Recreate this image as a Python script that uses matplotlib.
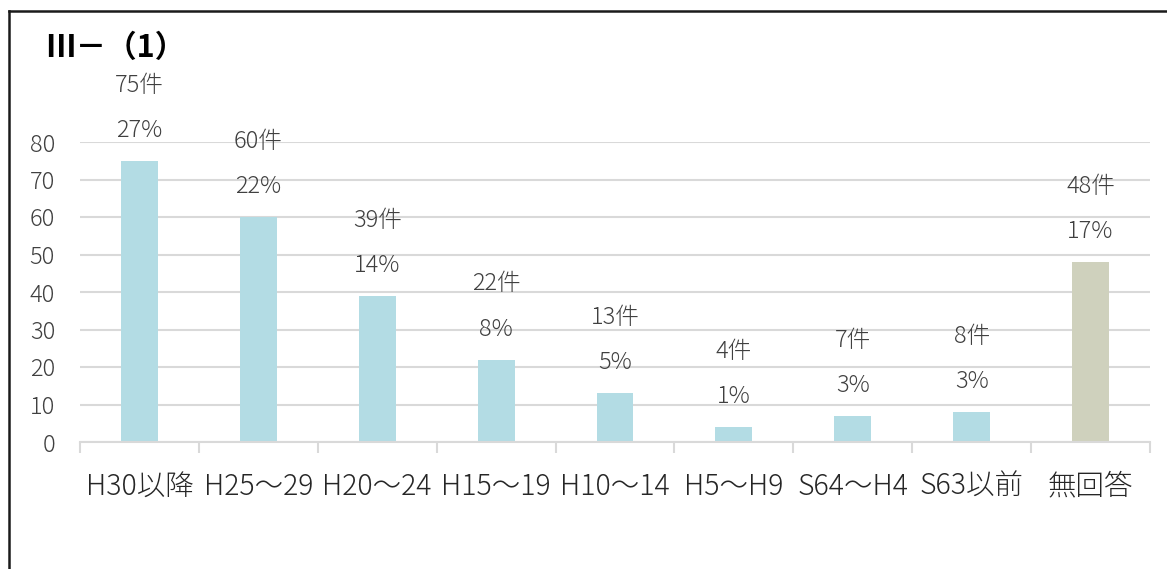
import matplotlib
matplotlib.use("Agg")
import matplotlib.pyplot as plt
from matplotlib.lines import Line2D
import numpy as np

plt.rcParams['font.family'] = ['Noto Sans CJK JP', 'DejaVu Sans']

categories = ["H30以降", "H25～29", "H20～24", "H15～19", "H10～14",
              "H5～H9", "S64～H4", "S63以前", "無回答"]
counts = [75, 60, 39, 22, 13, 4, 7, 8, 48]
percents = [27, 22, 14, 8, 5, 1, 3, 3, 17]
bar_colors = ["#B3DCE4"] * 8 + ["#CFD1BD"]
title = "Ⅲ－（1）"

W, H, DPI = 1167, 569, 100
fig = plt.figure(figsize=(W / DPI, H / DPI), dpi=DPI)
ax = fig.add_axes([80 / W, 1 - 442 / H, (1150 - 80) / W, (442 - 142) / H])

x = np.arange(len(categories))
ax.bar(x, counts, width=0.31, color=bar_colors, zorder=2)

ax.set_xlim(-0.5, len(categories) - 0.5)
ax.set_ylim(0, 80)
ax.set_yticks(range(0, 81, 10))
ax.yaxis.grid(True, color="#D9D9D9", linewidth=1.5, zorder=0)
ax.set_axisbelow(True)

for side in ("top", "right", "left"):
    ax.spines[side].set_visible(False)
ax.spines["bottom"].set_color("#D9D9D9")
ax.spines["bottom"].set_linewidth(1.5)

# category labels centered, tick marks on category boundaries
ax.set_xticks(x)
ax.set_xticklabels(categories, fontsize=20.5, color="#262626", fontweight="light")
ax.tick_params(axis="x", length=0, pad=21)
ax.set_xticks(np.arange(-0.5, len(categories)), minor=True)
ax.tick_params(axis="x", which="minor", length=8, width=1.5, color="#D9D9D9")
ax.tick_params(axis="y", length=0, pad=18, labelsize=17, labelcolor="#404040")
for lbl in ax.get_yticklabels():
    lbl.set_fontweight("light")

for xi, c, p in zip(x, counts, percents):
    ax.annotate(f"{p}%", (xi, c), xytext=(0, 24), textcoords="offset pixels",
                ha="center", va="baseline", fontsize=17, color="#404040",
                fontweight="light")
    ax.annotate(f"{c}件", (xi, c), xytext=(0, 69), textcoords="offset pixels",
                ha="center", va="baseline", fontsize=17, color="#404040",
                fontweight="light")

fig.text(45 / W, 1 - 48 / H, title, fontsize=22, fontweight="bold",
         color="#000000", ha="left", va="center")

# outer frame (top and left edges)
lx, ty = 8.5 / W, 1 - 10.5 / H
fig.add_artist(Line2D([lx, lx], [0, ty], color="#1a1a1a", linewidth=1.8,
                      transform=fig.transFigure))
fig.add_artist(Line2D([lx, 1], [ty, ty], color="#1a1a1a", linewidth=1.8,
                      transform=fig.transFigure))

fig.savefig("out.png", dpi=DPI, facecolor="white")
